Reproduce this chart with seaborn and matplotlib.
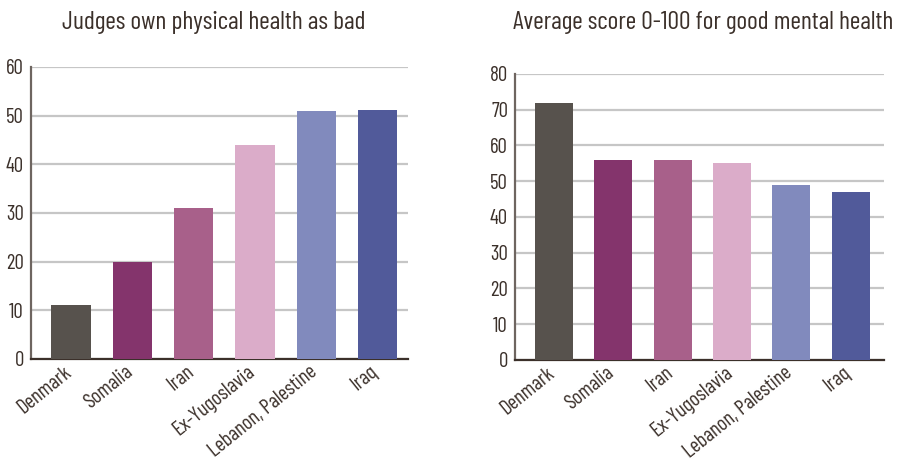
import matplotlib
matplotlib.use("Agg")
import matplotlib.pyplot as plt
import matplotlib.transforms as mtransforms
import seaborn as sns
import pandas as pd

countries = ["Denmark", "Somalia", "Iran", "Ex-Yugoslavia", "Lebanon, Palestine", "Iraq"]
physical_bad = [11, 20, 31, 44, 51, 51.2]
mental_score = [72, 56, 56, 55, 49, 47]
colors = ["#57524d", "#84346c", "#a8608a", "#dbacc9", "#818abd", "#515a9a"]
titles = ["Judges own physical health as bad", "Average score 0-100 for good mental health"]

sns.set_theme(style="white")
plt.rcParams["font.family"] = ["Barlow Condensed", "DejaVu Sans"]
text_color = "#3b302a"

fig = plt.figure(figsize=(9.03, 4.61), dpi=100)
ax1 = fig.add_axes([0.0343, 0.2213, 0.418, 0.6334])
ax2 = fig.add_axes([0.5703, 0.2191, 0.4086, 0.6204])

panels = [
    (ax1, physical_bad, (0, 60), list(range(0, 61, 10)), (-0.65, 5.5)),
    (ax2, mental_score, (0, 80), list(range(0, 81, 10)), (-0.66, 5.56)),
]

for i, (ax, vals, ylim, yt, xlim) in enumerate(panels):
    df = pd.DataFrame({"country": countries, "value": vals})
    sns.barplot(data=df, x="country", y="value", hue="country", palette=colors,
                width=0.64, legend=False, ax=ax, saturation=1, linewidth=0, zorder=3)
    ax.set_ylim(*ylim)
    ax.set_xlim(*xlim)
    ax.set_yticks(yt)
    ax.set_xlabel("")
    ax.set_ylabel("")
    ax.grid(axis="y", color="#c6c6c6", linewidth=1.6, zorder=0)
    ax.set_axisbelow(True)
    for s in ["top", "right"]:
        ax.spines[s].set_visible(False)
    ax.spines["left"].set_color("#6e6560")
    ax.spines["left"].set_linewidth(1.6)
    ax.spines["bottom"].set_color("#3b302a")
    ax.spines["bottom"].set_linewidth(1.6)
    ax.tick_params(axis="y", length=0, colors=text_color, labelsize=15, pad=5)
    ax.tick_params(axis="x", length=0, colors=text_color, labelsize=15, pad=7.5)
    offset = mtransforms.ScaledTranslation(-2 / 100, 0, fig.dpi_scale_trans)
    for lab in ax.get_xticklabels():
        lab.set_rotation(39)
        lab.set_ha("right")
        lab.set_va("center")
        lab.set_rotation_mode("anchor")
        lab.set_transform(lab.get_transform() + offset)
        lab.set_color(text_color)

fig.text(0.0687, 0.952, titles[0], fontsize=18.5, color=text_color, ha="left", va="center")
fig.text(0.568, 0.952, titles[1], fontsize=18.5, color=text_color, ha="left", va="center")

fig.savefig("out.png", dpi=100)
